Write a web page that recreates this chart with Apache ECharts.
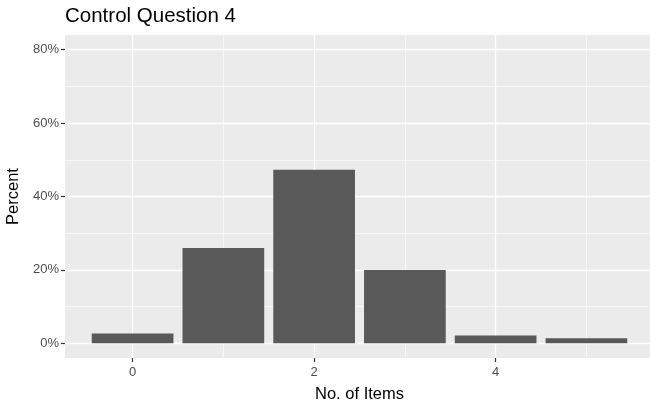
<!DOCTYPE html>
<html>
<head>
<meta charset="utf-8">
<script src="https://cdn.jsdelivr.net/npm/echarts@6/dist/echarts.min.js"></script>
<style>html,body{margin:0;padding:0;background:#fff;}#c{width:650px;height:406px;}</style>
</head>
<body>
<div id="c"></div>
<script>
const categories = [0, 1, 2, 3, 4, 5];
const percents = [2.7, 26.0, 47.3, 20.0, 2.1, 1.4];
const yMajor = [0, 20, 40, 60, 80];
const yMinor = [10, 30, 50, 70];
const xMajor = [0, 2, 4];
const xMinor = [1, 3, 5];

const GRID_LEFT = 65, GRID_RIGHT = -4, GRID_TOP = 35, GRID_BOTTOM = 48;
const X_MIN = -0.745, X_MAX = 5.745;
const plotW = 650 - GRID_LEFT - GRID_RIGHT;
const barW = 0.9 * plotW / (X_MAX - X_MIN);

const chart = echarts.init(document.getElementById('c'), null, {renderer: 'canvas'});

function lines(vals, key, width) {
  return vals.map(v => ({[key]: v, lineStyle: {color: '#ffffff', width: width, type: 'solid'}}));
}

chart.setOption({
  animation: false,
  title: {
    text: 'Control Question 4', left: 65, top: 6, padding: 0,
    textStyle: {fontFamily: 'Liberation Sans', fontSize: 20.5, fontWeight: 'normal', color: '#000'}
  },
  grid: {left: GRID_LEFT, right: GRID_RIGHT, top: GRID_TOP, bottom: GRID_BOTTOM, show: true, backgroundColor: '#ebebeb', borderWidth: 0, outerBoundsMode: 'none', containLabel: false},
  xAxis: {
    type: 'value', min: X_MIN, max: X_MAX,
    name: 'No. of Items', nameLocation: 'middle', nameGap: 28,
    nameTextStyle: {fontFamily: 'Liberation Sans', fontSize: 16.5, color: '#000'},
    axisLine: {show: true, onZero: false, lineStyle: {color: 'rgba(0,0,0,0)', width: 0}},
    splitLine: {show: false},
    axisTick: {show: true, customValues: xMajor, length: 4, lineStyle: {color: '#333333', width: 1.2}},
    axisLabel: {customValues: xMajor, fontFamily: 'Liberation Sans', fontSize: 13, color: '#4d4d4d', margin: 8}
  },
  yAxis: {
    type: 'value', min: -4, max: 84,
    name: 'Percent', nameLocation: 'middle', nameGap: 41, nameRotate: 90,
    nameTextStyle: {fontFamily: 'Liberation Sans', fontSize: 16.5, color: '#000'},
    axisLine: {show: true, onZero: false, lineStyle: {color: 'rgba(0,0,0,0)', width: 0}},
    splitLine: {show: false},
    axisTick: {show: true, customValues: yMajor, length: 4, lineStyle: {color: '#333333', width: 1.2}},
    axisLabel: {customValues: yMajor, formatter: v => v + '%', fontFamily: 'Liberation Sans', fontSize: 13, color: '#4d4d4d', margin: 6}
  },
  series: [
    {
      type: 'line', data: [], silent: true, z: 1,
      markLine: {
        silent: true, symbol: 'none', z: 1, animation: false,
        label: {show: false},
        data: [].concat(
          lines(yMinor, 'yAxis', 0.6),
          lines(xMinor, 'xAxis', 0.6),
          lines(yMajor, 'yAxis', 1.3),
          lines(xMajor, 'xAxis', 1.3)
        )
      }
    },
    {
      type: 'bar', z: 3,
      data: categories.map((c, i) => [c, percents[i]]),
      barWidth: barW,
      itemStyle: {color: '#595959'}
    }
  ]
});
</script>
</body>
</html>
